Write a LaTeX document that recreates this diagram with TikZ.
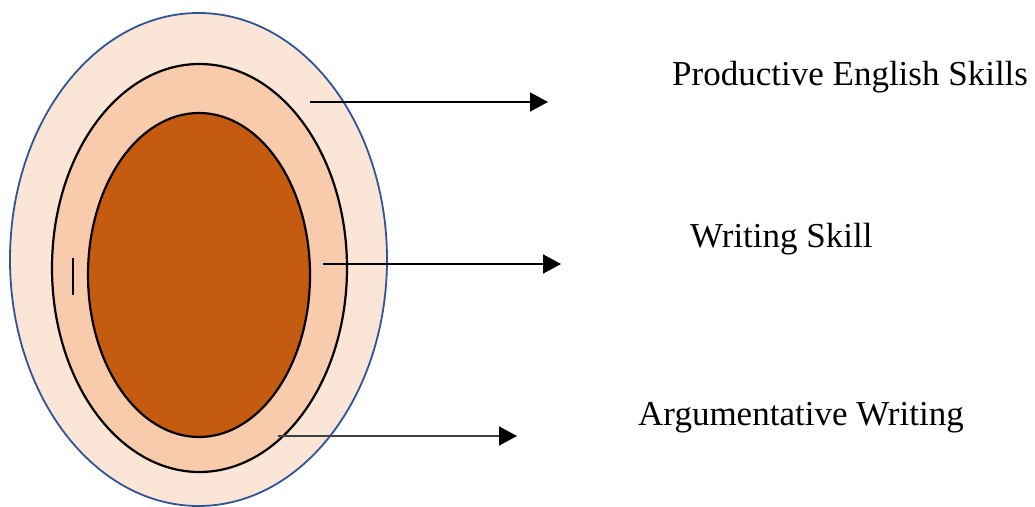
\documentclass[tikz,border=0pt]{standalone}
\usepackage{fontspec}
\setmainfont{Liberation Serif}
\usetikzlibrary{shapes.geometric,arrows.meta}
\definecolor{outerfill}{HTML}{FBE5D6}
\definecolor{outerline}{HTML}{2F5597}
\definecolor{midfill}{HTML}{F8CBAD}
\definecolor{innerfill}{HTML}{C55A11}
\definecolor{arrowgray}{HTML}{404040}
\tikzset{
  ring/.style={ellipse, inner sep=0pt, outer sep=0pt},
  pointer/.style={line width=1.6pt, -{Triangle[length=18pt,width=19pt,color=black]}},
  label/.style={anchor=base west, inner sep=0pt, font=\fontsize{35}{40}\selectfont}
}
\begin{document}
\begin{tikzpicture}[x=1pt,y=1pt]
\useasboundingbox (0,0) rectangle (1035,506);
% ellipses (y = 506 - image y)
\node[ring, draw=outerline, line width=1.8pt, fill=outerfill, minimum width=377pt, minimum height=493pt] (outer) at (198.5,246.5) {};
\node[ring, draw=black, line width=2.2pt, fill=midfill, minimum width=295pt, minimum height=408pt] (middle) at (199.5,238) {};
\node[ring, draw=black, line width=2.2pt, fill=innerfill, minimum width=222pt, minimum height=324pt] (inner) at (199,231) {};
% small bar
\coordinate (bartop) at (73,248);
\coordinate (barbot) at (73,211);
\draw[line width=2.2pt] (bartop) -- (barbot);
% arrows
\coordinate (s1) at (310,404);
\coordinate (e1) at (548,404);
\coordinate (s2) at (323,242);
\coordinate (e2) at (561,242);
\coordinate (s3) at (278,70);
\coordinate (e3) at (517,70);
\draw[pointer] (s1) -- (e1);
\draw[pointer] (s2) -- (e2);
\draw[pointer, draw=arrowgray] (s3) -- (e3);
% labels
\node[label] (l1) at (672,420) {Productive English Skills};
\node[label] (l2) at (690,258) {Writing Skill};
\node[label] (l3) at (638,81) {Argumentative Writing};
\end{tikzpicture}
\end{document}
